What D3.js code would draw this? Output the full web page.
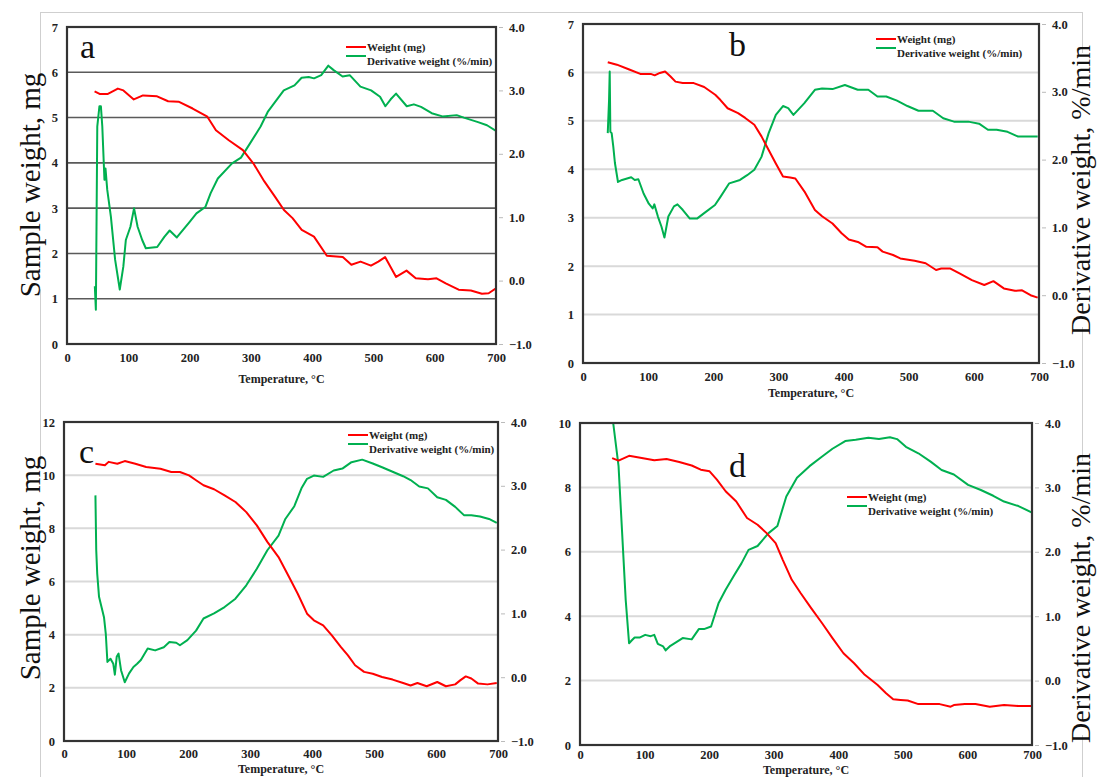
<!DOCTYPE html>
<html>
<head>
<meta charset="utf-8">
<script src="https://cdn.jsdelivr.net/npm/d3@7"></script>
<style>
  body { margin: 0; background: #fff; }
  svg { display: block; }
</style>
</head>
<body>
<script>
// x ticks shared by all four panels
var tempTicks = [0, 100, 200, 300, 400, 500, 600, 700];
var derivTicks = [-1, 0, 1, 2, 3, 4];

// panel a: [temperature, value]
var aWeight = [[45,5.58],[54,5.52],[66,5.52],[83,5.64],[92,5.6],[109,5.4],[124,5.49],[147,5.47],[165,5.36],[182,5.35],
  [205,5.2],[229,5.02],[243,4.72],[264,4.5],[287,4.28],[304,3.99],[322,3.59],[339,3.26],[354,2.96],[368,2.78],
  [383,2.52],[403,2.37],[424,1.95],[450,1.92],[464,1.75],[479,1.82],[496,1.73],[508,1.82],[519,1.92],[537,1.48],
  [554,1.62],[569,1.45],[589,1.43],[603,1.45],[618,1.34],[639,1.2],[659,1.18],[677,1.11],[688,1.12],[700,1.23]];
var aDeriv = [[45.4,-0.09],[47.1,-0.46],[49.4,2.43],[52.9,2.75],[55.3,2.75],[57.6,2.43],[61.1,1.59],[62.8,1.77],[65.7,1.43],
  [71.6,1.01],[78.5,0.33],[86.1,-0.14],[91.9,0.22],[96,0.64],[103.5,0.85],[109.4,1.14],[115.2,0.85],[122.7,0.64],
  [128.6,0.51],[147.2,0.53],[158.8,0.69],[167.5,0.79],[179.2,0.68],[199.5,0.92],[211.2,1.06],[225.7,1.16],[234.4,1.38],
  [246.1,1.61],[269.3,1.85],[283.9,1.94],[298.4,2.16],[315.9,2.43],[327.5,2.66],[342.1,2.85],[353.7,3.0],[371.2,3.08],
  [382.8,3.2],[394.4,3.21],[403.1,3.19],[414.8,3.24],[426.4,3.39],[435.1,3.32],[449.7,3.22],[461.3,3.24],[478.8,3.06],
  [496.2,3.0],[510.8,2.9],[519.5,2.75],[528.2,2.86],[536.9,2.95],[554.4,2.75],[566,2.78],[577.7,2.74],[595.1,2.64],
  [612.6,2.59],[635.8,2.61],[647.5,2.57],[670.7,2.5],[685.3,2.45],[700,2.36]];

// panel b
var bWeight = [[38,6.21],[52,6.16],[71,6.06],[88,5.97],[104,5.97],[110,5.94],[118,5.99],[126,6.02],[134,5.92],[142,5.81],
  [153,5.78],[170,5.78],[186,5.7],[203,5.54],[211,5.43],[222,5.26],[238,5.16],[249,5.06],[263,4.92],[274,4.68],
  [285,4.4],[296,4.12],[307,3.85],[318,3.83],[326,3.81],[340,3.54],[356,3.16],[367,3.03],[383,2.88],[397,2.68],
  [408,2.55],[422,2.5],[435,2.4],[452,2.39],[460,2.3],[476,2.23],[487,2.16],[509,2.11],[526,2.06],[542,1.92],
  [550,1.95],[564,1.95],[578,1.85],[597,1.71],[616,1.61],[630,1.69],[646,1.54],[663,1.49],[674,1.5],[687,1.4],[698,1.35]];
var bDeriv = [[38,2.39],[40,2.88],[41,3.3],[42,2.41],[44,2.39],[46.5,2.19],[49,1.95],[53.7,1.67],[60,1.7],[74,1.74],
  [79.4,1.7],[85,1.71],[93,1.5],[101,1.35],[107,1.28],[109.5,1.34],[115,1.16],[120.5,1.01],[125,0.85],[131,1.16],
  [139.6,1.31],[145,1.34],[153,1.26],[164,1.13],[175,1.13],[186,1.21],[202.6,1.33],[211,1.45],[224.5,1.65],[241,1.7],
  [252,1.77],[263,1.85],[274,2.04],[285,2.39],[296,2.66],[307,2.79],[315,2.76],[323,2.66],[339.5,2.83],[356,3.03],
  [367,3.05],[383,3.04],[402,3.1],[421.7,3.03],[438,3.03],[452,2.93],[465.5,2.93],[482,2.87],[498,2.79],[515,2.72],
  [526,2.72],[537,2.72],[553,2.61],[569.5,2.56],[591.5,2.56],[608,2.53],[621.6,2.44],[635,2.44],[651.7,2.41],
  [668,2.34],[679,2.34],[698,2.34]];

// panel c
var cWeight = [[50.7,10.43],[66,10.37],[72,10.5],[86,10.43],[98,10.53],[115,10.43],[132.5,10.31],[155.5,10.24],[173,10.12],
  [187,10.12],[201.6,9.99],[213,9.81],[225,9.62],[242,9.47],[259,9.24],[276.5,8.99],[294,8.61],[311,8.11],[328,7.49],
  [346,6.92],[363,6.17],[377,5.54],[392,4.79],[403,4.54],[418,4.35],[432,3.97],[446.4,3.54],[458,3.22],[469.5,2.85],
  [484,2.6],[498,2.53],[513,2.41],[530,2.31],[547,2.18],[559,2.09],[570,2.18],[585,2.06],[602,2.22],[616,2.06],
  [631,2.13],[639,2.28],[648,2.43],[657,2.35],[668,2.16],[683,2.13],[698,2.18]];
var cDeriv = [[50.7,2.85],[52,1.99],[53.6,1.62],[56.5,1.26],[60.5,1.1],[64.5,0.94],[67.4,0.68],[70,0.24],[75,0.29],
  [79.5,0.21],[82,0.04],[85,0.32],[88,0.37],[92,0.11],[98,-0.08],[105,0.06],[112,0.16],[118,0.21],[124,0.27],
  [135,0.45],[147,0.42],[161,0.47],[170,0.55],[181,0.54],[187,0.5],[199,0.58],[213,0.73],[225,0.92],[242,1.0],
  [259,1.1],[276.5,1.23],[294,1.44],[311,1.7],[328,1.99],[346,2.22],[357,2.48],[371.5,2.68],[383,2.96],[392,3.11],
  [403,3.16],[418,3.14],[435,3.24],[449,3.27],[463.7,3.37],[481,3.41],[498,3.35],[513,3.29],[530,3.22],[547,3.15],
  [559,3.09],[573,2.99],[587,2.96],[602,2.82],[616,2.78],[631,2.67],[645,2.54],[657,2.54],[671,2.52],[685.5,2.48],[698,2.42]];

// panel d
var dWeight = [[49.8,8.91],[59.7,8.83],[76,8.98],[95.6,8.91],[115,8.84],[134,8.88],[153.7,8.79],[173,8.68],[187,8.55],
  [200.7,8.5],[212,8.24],[225.5,7.88],[242,7.56],[258.7,7.05],[275,6.84],[289,6.58],[303,6.27],[314,5.75],[328,5.13],
  [341.6,4.72],[358,4.25],[375,3.78],[391,3.32],[408,2.85],[424.5,2.54],[441,2.18],[460.5,1.87],[474,1.61],[485,1.42],
  [496.4,1.4],[507.5,1.38],[524,1.27],[540.6,1.27],[557,1.27],[574,1.19],[579,1.24],[596,1.27],[612.5,1.27],
  [634.6,1.19],[656.7,1.24],[679,1.21],[700,1.21]];
var dDeriv = [[49,4.3],[51.4,4.0],[59.7,3.33],[65,2.34],[70.8,1.25],[76,0.58],[80.7,0.63],[84.6,0.67],[93,0.67],[101,0.71],
  [109.5,0.69],[115,0.71],[120.5,0.57],[128.8,0.53],[132.7,0.47],[140,0.54],[148,0.59],[159,0.66],[173,0.64],[184,0.8],
  [192,0.8],[203,0.84],[214.5,1.2],[225.5,1.41],[239,1.64],[250,1.82],[261,2.03],[275,2.09],[292,2.29],[305.7,2.4],
  [319.5,2.86],[336,3.15],[355.5,3.33],[375,3.48],[391,3.6],[410.7,3.72],[427,3.74],[446.6,3.77],[463,3.75],[480,3.78],
  [491,3.75],[504.7,3.63],[524,3.53],[543,3.4],[560,3.27],[579,3.2],[601,3.04],[620.8,2.96],[640,2.87],[656.7,2.78],
  [679,2.71],[700,2.61]];

var W = 1097, H = 777;
var serif = "'Liberation Serif', 'Times New Roman', serif";

var svg = d3.select("body").append("svg")
    .attr("width", W)
    .attr("height", H);

// light outer frame round the whole figure
svg.append("rect")
    .attr("x", 40.5).attr("y", 12.5)
    .attr("width", 1042).attr("height", 800)
    .attr("fill", "none")
    .attr("stroke", "#cfcfcf")
    .attr("stroke-width", 1);

// axis titles with a white backing so they cut the frame (drawn before the panels)
sideLabel(30, 185, "Sample weight, mg", 29);
sideLabel(30, 568, "Sample weight, mg", 29);
sideLabel(1080, 190, "Derivative weight, %/min", 28);
sideLabel(1080, 598, "Derivative weight, %/min", 28);

var panels = [
  {id: "a", weight: aWeight, deriv: aDeriv, left: 67, right: 496, top: 27, bottom: 344, yMax: 7, yStep: 1,
   grid: "#5a5a5a", gridW: 1.6, letter: [80, 58], legend: [346, 47], titleY: 383, pad: 9},
  {id: "b", weight: bWeight, deriv: bDeriv, left: 583, right: 1039, top: 24, bottom: 363, yMax: 7, yStep: 1,
   grid: "#d9d9d9", gridW: 2, letter: [729, 56], legend: [876, 39], titleY: 397, pad: 9},
  {id: "c", weight: cWeight, deriv: cDeriv, left: 64, right: 498, top: 422, bottom: 741, yMax: 12, yStep: 2,
   grid: "#d9d9d9", gridW: 2, letter: [79, 463], legend: [348, 435], titleY: 773, pad: 8},
  {id: "d", weight: dWeight, deriv: dDeriv, left: 580, right: 1032, top: 423, bottom: 745, yMax: 10, yStep: 2,
   grid: "#d9d9d9", gridW: 2, letter: [729, 477], legend: [847, 497], titleY: 774, pad: 5}
];

panels.forEach(drawPanel);

function sideLabel(cx, cy, txt, size) {
    var g = svg.append("g").attr("transform", "translate(" + cx + "," + cy + ") rotate(-90)");
    var t = g.append("text")
        .attr("text-anchor", "middle")
        .attr("dy", "0.35em")
        .style("font-family", serif)
        .style("font-size", size + "px")
        .attr("fill", "#111")
        .text(txt);
    var bb = t.node().getBBox();
    g.insert("rect", "text")
        .attr("x", bb.x + 8).attr("y", bb.y)
        .attr("width", bb.width - 16).attr("height", bb.height)
        .attr("fill", "#fff");
}

function styleTicks(sel) {
    sel.selectAll(".tick text")
        .style("font-family", serif)
        .style("font-weight", "bold")
        .style("font-size", "12.5px")
        .attr("fill", "#222");
}

function drawPanel(p) {
    var x = d3.scaleLinear().domain([0, 700]).range([p.left, p.right]);
    var yL = d3.scaleLinear().domain([0, p.yMax]).range([p.bottom, p.top]);
    var yR = d3.scaleLinear().domain([-1, 4]).range([p.bottom, p.top]);
    var leftTicks = d3.range(0, p.yMax + p.yStep / 2, p.yStep);

    var g = svg.append("g").attr("class", "panel-" + p.id);

    // gridlines
    g.selectAll("line.grid")
        .data(leftTicks.filter(function(v) { return v > 0 && v < p.yMax; }))
        .enter().append("line")
        .attr("class", "grid")
        .attr("x1", p.left).attr("x2", p.right)
        .attr("y1", function(v) { return yL(v); })
        .attr("y2", function(v) { return yL(v); })
        .attr("stroke", p.grid)
        .attr("stroke-width", p.gridW);

    // left axis
    var la = g.append("g")
        .attr("transform", "translate(" + p.left + ",0)")
        .call(d3.axisLeft(yL).tickValues(leftTicks).tickSize(0).tickPadding(9).tickFormat(d3.format("d")));
    la.select(".domain").remove();
    styleTicks(la);

    // right axis
    var ra = g.append("g")
        .attr("transform", "translate(" + p.right + ",0)")
        .call(d3.axisRight(yR).tickValues(derivTicks).tickSize(5).tickPadding(8).tickFormat(d3.format(".1f")));
    ra.select(".domain").remove();
    ra.selectAll(".tick line").attr("stroke", "#bbb").attr("x1", 3).attr("x2", 7);
    styleTicks(ra);

    // bottom axis
    var ba = g.append("g")
        .attr("transform", "translate(0," + p.bottom + ")")
        .call(d3.axisBottom(x).tickValues(tempTicks).tickSize(0).tickPadding(p.pad));
    ba.select(".domain").remove();
    styleTicks(ba);

    g.append("text")
        .attr("x", (p.left + p.right) / 2)
        .attr("y", p.titleY)
        .attr("text-anchor", "middle")
        .style("font-family", serif)
        .style("font-weight", "bold")
        .style("font-size", "12px")
        .attr("fill", "#222")
        .text("Temperature, \u00b0C");

    // curves, clipped to the plot box
    svg.append("clipPath").attr("id", "clip-" + p.id)
        .append("rect")
        .attr("x", p.left).attr("y", p.top)
        .attr("width", p.right - p.left).attr("height", p.bottom - p.top);

    var weightLine = d3.line()
        .x(function(d) { return x(d[0]); })
        .y(function(d) { return yL(d[1]); });
    var derivLine = d3.line()
        .x(function(d) { return x(d[0]); })
        .y(function(d) { return yR(d[1]); });

    var curves = g.append("g").attr("clip-path", "url(#clip-" + p.id + ")");
    curves.append("path")
        .datum(p.deriv)
        .attr("d", derivLine)
        .attr("fill", "none")
        .attr("stroke", "#00b050")
        .attr("stroke-width", 2)
        .attr("stroke-linejoin", "round");
    curves.append("path")
        .datum(p.weight)
        .attr("d", weightLine)
        .attr("fill", "none")
        .attr("stroke", "#ff0000")
        .attr("stroke-width", 2)
        .attr("stroke-linejoin", "round");

    // plot frame
    g.append("rect")
        .attr("x", p.left).attr("y", p.top)
        .attr("width", p.right - p.left).attr("height", p.bottom - p.top)
        .attr("fill", "none")
        .attr("stroke", "#333")
        .attr("stroke-width", 2.2);

    // panel letter
    g.append("text")
        .attr("x", p.letter[0]).attr("y", p.letter[1])
        .style("font-family", serif)
        .style("font-size", "34px")
        .attr("fill", "#111")
        .text(p.id);

    // legend
    var lx = p.legend[0], ly = p.legend[1];
    var lg = g.append("g");
    lg.append("line")
        .attr("x1", lx).attr("x2", lx + 20)
        .attr("y1", ly).attr("y2", ly)
        .attr("stroke", "#ff0000").attr("stroke-width", 2);
    lg.append("line")
        .attr("x1", lx).attr("x2", lx + 20)
        .attr("y1", ly + 9).attr("y2", ly + 9)
        .attr("stroke", "#00b050").attr("stroke-width", 2);
    lg.selectAll("text")
        .data(["Weight (mg)", "Derivative weight (%/min)"])
        .enter().append("text")
        .attr("x", lx + 21)
        .attr("y", function(d, i) { return ly + i * 14; })
        .attr("dy", "0.35em")
        .style("font-family", serif)
        .style("font-weight", "bold")
        .style("font-size", "11px")
        .attr("fill", "#222")
        .text(function(d) { return d; });
}
</script>
</body>
</html>
